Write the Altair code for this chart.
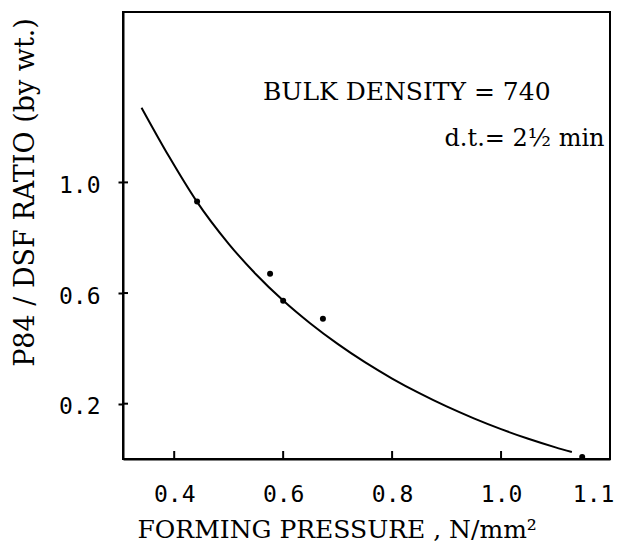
import altair as alt
import pandas as pd

# measured points
pt_x = [0.442, 0.576, 0.600, 0.673, 1.149]
pt_y = [0.931, 0.670, 0.572, 0.507, 0.007]

# fitted curve
curve_x = [0.34, 0.39, 0.44, 0.50, 0.55, 0.60, 0.65, 0.70, 0.75, 0.80, 0.85, 0.90, 0.95, 1.00, 1.05, 1.10, 1.13]
curve_y = [1.27, 1.095, 0.935, 0.778, 0.668, 0.573, 0.49, 0.416, 0.35, 0.291, 0.238, 0.19, 0.147, 0.108, 0.073, 0.042, 0.025]

x_tick_vals = [0.4, 0.6, 0.8, 1.0]
x_label_vals = [0.4, 0.6, 0.8, 1.0, 1.169]
y_tick_vals = [0.2, 0.6, 1.0]

notes_text = ["BULK DENSITY = 740", "d.t.= 2½ min"]
notes_x = [0.563, 1.19]
notes_y = [1.297, 1.13]

XDOM = [0.306, 1.2]
YDOM = [0.0, 1.616]
W, H = 487, 447
TITLE_FONT = "DejaVu Serif"
LABEL_FONT = "DejaVu Sans Mono"

pts = pd.DataFrame({"x": pt_x, "y": pt_y})
curve = pd.DataFrame({"x": curve_x, "y": curve_y})
xt = pd.DataFrame({"x": x_tick_vals})
yt = pd.DataFrame({"y": y_tick_vals})
notes = pd.DataFrame({"t": notes_text, "x": notes_x, "y": notes_y})

xscale = alt.Scale(domain=XDOM, nice=False, zero=False)
yscale = alt.Scale(domain=YDOM, nice=False, zero=False)

xaxis = alt.Axis(
    values=x_label_vals,
    labelExpr="datum.value > 1.1 ? '1.1' : format(datum.value, '.1f')",
    ticks=False, grid=False, domainColor="black", domainWidth=2,
    labelFont=LABEL_FONT, labelFontSize=23, labelColor="black",
    labelBaseline="top", labelPadding=24, labelFlush=False,
    title="FORMING PRESSURE , N/mm²", titleFont=TITLE_FONT, titleFontSize=25,
    titleFontWeight="normal", titleColor="black", titleAlign="left",
    titleX=14, titleY=78, titleBaseline="alphabetic",
)
yaxis = alt.Axis(
    values=y_tick_vals, format=".1f",
    ticks=True, tickSize=5, tickWidth=2, tickColor="black",
    grid=False, domainColor="black", domainWidth=2,
    labelFont=LABEL_FONT, labelFontSize=23, labelColor="black",
    labelPadding=18, labelBaseline="middle", labelOffset=3,
    title="P84 / DSF RATIO (by wt.)", titleFont=TITLE_FONT, titleFontSize=27,
    titleFontWeight="normal", titleColor="black", titleAngle=-90,
    titleAlign="center", titleBaseline="alphabetic", titleX=-90, titleY=180,
)

line = alt.Chart(curve).mark_line(color="black", strokeWidth=2, interpolate="monotone").encode(
    x=alt.X("x:Q", scale=xscale, axis=xaxis),
    y=alt.Y("y:Q", scale=yscale, axis=yaxis),
)
dots = alt.Chart(pts).mark_circle(color="black", size=36, opacity=1).encode(
    x=alt.X("x:Q", scale=xscale), y=alt.Y("y:Q", scale=yscale)
)
xticks = alt.Chart(xt).mark_rule(color="black", strokeWidth=2).encode(
    x=alt.X("x:Q", scale=xscale), y=alt.value(H), y2=alt.value(H - 8)
)
yticks = alt.Chart(yt).mark_rule(color="black", strokeWidth=2).encode(
    y=alt.Y("y:Q", scale=yscale), x=alt.value(0), x2=alt.value(5)
)
note1 = alt.Chart(notes.iloc[[0]]).mark_text(
    font=TITLE_FONT, fontSize=25, align="left", baseline="alphabetic", color="black"
).encode(x=alt.X("x:Q", scale=xscale), y=alt.Y("y:Q", scale=yscale), text="t:N")
note2 = alt.Chart(notes.iloc[[1]]).mark_text(
    font=TITLE_FONT, fontSize=24, align="right", baseline="alphabetic", color="black"
).encode(x=alt.X("x:Q", scale=xscale), y=alt.Y("y:Q", scale=yscale), text="t:N")

chart = alt.layer(line, dots, xticks, yticks, note1, note2).properties(
    width=W, height=H,
    autosize=alt.AutoSizeParams(type="none"),
    padding={"left": 115, "top": 4, "right": 4, "bottom": 92},
    background="white",
).configure_view(stroke="black", strokeWidth=2)

chart.save("out.html", embed_options={"renderer": "svg", "actions": False})
